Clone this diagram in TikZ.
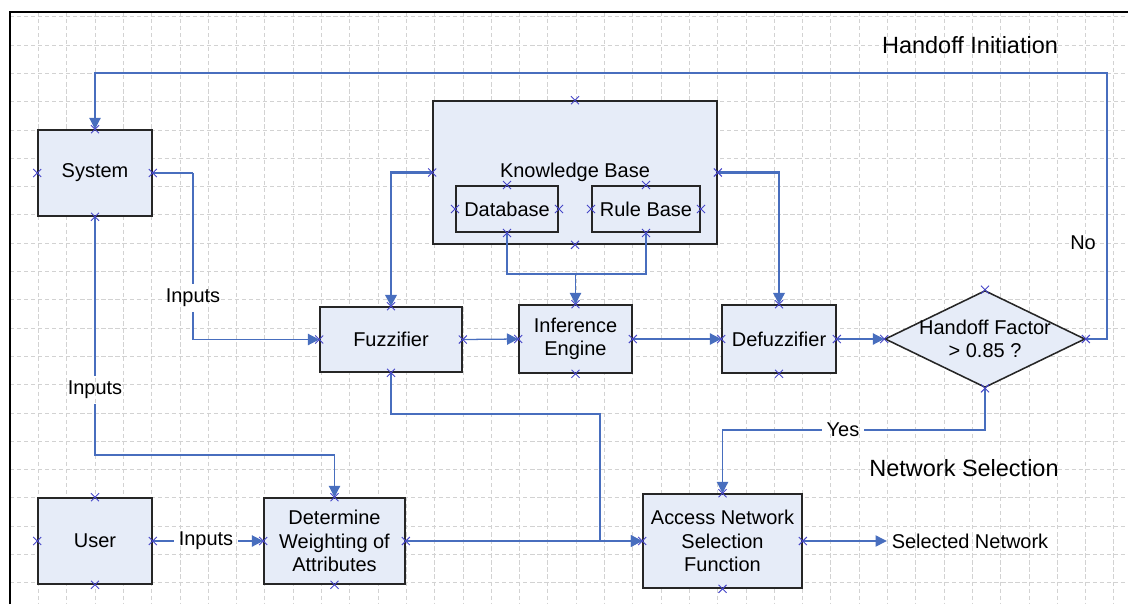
\documentclass[tikz,border=0pt]{standalone}
\usepackage{fontspec}
\setmainfont{Liberation Sans}
\usetikzlibrary{arrows.meta, shapes.geometric, shapes.misc}
\definecolor{boxfill}{RGB}{230,236,248}
\definecolor{wireblue}{RGB}{72,110,190}
\definecolor{cptblue}{RGB}{70,70,200}

\begin{document}
\begin{tikzpicture}[x=0.025cm, y=-0.025cm,
    font=\fontsize{14.2}{16.6}\selectfont,
    block/.style={draw=black!85, line width=1.1pt, fill=boxfill, align=center, inner sep=2pt},
    decision/.style={diamond, draw=black!85, line width=1.1pt, fill=boxfill, inner sep=0pt},
    wire/.style={draw=wireblue, line width=0.9pt},
    bus/.style={wire, line width=1.8pt},
    tip/.style={-{Triangle[length=8pt,width=8pt]}},
    heading/.style={font=\fontsize{16.7}{19}\selectfont},
    cpt/.style={cross out, draw=cptblue, line width=0.7pt, minimum size=5pt, inner sep=0pt},
    gridline/.style={gray!35, densely dashed, line width=0.4pt}]

    \useasboundingbox (0,0) rectangle (1128,604);
    % grid and frame
    \foreach \i in {1,...,39} \draw[gridline] ({10+28.3*\i},12) -- ({10+28.3*\i},604);
    \foreach \j in {0,...,20} \draw[gridline] (10,{16.6+28.3*\j}) -- (1128,{16.6+28.3*\j});
    \draw[line width=1.2pt] (10,604) -- (10,12) -- (1128,12);

    % blocks
    \node[block, minimum width=2.85cm, minimum height=2.15cm] (sys) at (95,173) {System};
    \node[block, minimum width=7.1cm, minimum height=3.575cm] (kb) at (575,172.5) {Knowledge Base};
    \node[block, line width=1.4pt, minimum width=2.55cm, minimum height=1.15cm] (db) at (507,209) {Database};
    \node[block, line width=1.4pt, minimum width=2.7cm, minimum height=1.15cm] (rb) at (646,209) {Rule Base};
    \node[block, minimum width=3.55cm, minimum height=1.625cm] (fuz) at (391,339.5) {Fuzzifier};
    \node[block, minimum width=2.825cm, minimum height=1.7cm] (inf) at (575.5,339) {Inference\\Engine};
    \node[block, minimum width=2.85cm, minimum height=1.7cm] (dfz) at (779,339) {Defuzzifier};
    \node[decision, minimum width=5cm, minimum height=2.425cm] (hf) at (985,339) {};
    \node[align=center] (hftext) at (hf.center) {Handoff Factor\\> 0.85 ?};
    \node[block, minimum width=2.85cm, minimum height=2.15cm] (usr) at (95,541) {User};
    \node[block, minimum width=3.525cm, minimum height=2.15cm] (det) at (334.5,541) {Determine\\Weighting of\\Attributes};
    \node[block, minimum width=3.975cm, minimum height=2.35cm] (ans) at (722.5,541) {Access Network\\Selection\\Function};
    \node (sel) at (970,541) {Selected Network};

    % texts
    \node[heading] (hoi) at (970,45) {Handoff Initiation};
    \node[heading] (nsel) at (964,468) {Network Selection};
    \node (no) at (1083,243) {No};
    \node (inA) at (193,298) {Inputs};
    \node (inB) at (95,390) {Inputs};
    \node (inC) at (206,541) {Inputs};
    \node (yes) at (843,430) {Yes};

    \coordinate (jN) at (1107,73);
    \coordinate (jB) at (95,455);
    \coordinate (jK) at (575.5,274);
    \coordinate (jF) at (600,414);

    % connectors
    \draw[bus] (sys.east) -- (sys.east -| inA.north);
    \draw[wire] (sys.east -| inA.north) -- (inA.north);
    \draw[wire,tip] (inA.south) |- (fuz.west);
    \draw[wire] (sys.south) -- (inB.north);
    \draw[wire,tip] (inB.south) -- (jB) -| (det.north);
    \draw[wire] (usr.east) -- (inC.west);
    \draw[wire,tip] (inC.east) -- (det.west);
    \draw[bus,tip] (kb.west) -| (fuz.north);
    \draw[bus,tip] (kb.east) -| (dfz.north);
    \draw[wire] (db.south) |- (jK) -| (rb.south);
    \draw[wire,tip] (jK) -- (inf.north);
    \draw[wire,tip] (fuz.east) -- (inf.west);
    \draw[wire,tip] (inf.east) -- (dfz.west);
    \draw[wire,tip] (dfz.east) -- (hf.west);
    \draw[wire,tip] (hf.east) -| (jN) -| (sys.north);
    \draw[wire] (hf.south) |- (yes.east);
    \draw[wire,tip] (yes.west) -| (ans.north);
    \draw[wire,tip,line width=1.3pt] (fuz.south) |- (jF) |- (ans.west);
    \draw[wire,tip] (det.east) -- (ans.west);
    \draw[wire,tip] (ans.east) -- (sel.west);

    % connection points
    \foreach \n in {sys,kb,db,rb,fuz,inf,dfz,hf,usr,det,ans}
        \foreach \a in {north,south,east,west}
            \node[cpt] at (\n.\a) {};
\end{tikzpicture}
\end{document}
